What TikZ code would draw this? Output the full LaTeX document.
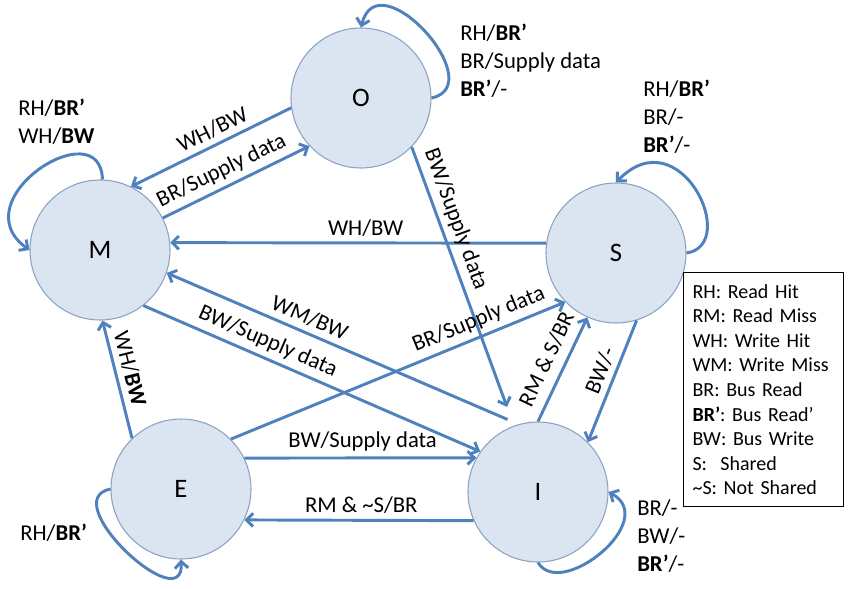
\documentclass[tikz,border=0pt]{standalone}
\usepackage{fontspec}
\setmainfont{Carlito}
\usetikzlibrary{arrows.meta}
\definecolor{edgeblue}{RGB}{79,129,189}
\definecolor{statefill}{RGB}{219,229,241}
\definecolor{stateline}{RGB}{140,162,196}

\begin{document}
\begin{tikzpicture}[x=0.75pt,y=-0.75pt,
  state/.style={circle,draw=stateline,fill=statefill,line width=0.8pt,minimum size=105pt,inner sep=0pt,font=\fontsize{20}{24}\selectfont},
  trans/.style={draw=edgeblue,line width=2.2pt,-{Straight Barb[length=5pt,width=10pt]}},
  lbl/.style={font=\fontsize{17}{21}\selectfont,inner sep=4pt},
  looplbl/.style={font=\fontsize{17}{21}\selectfont,align=left,anchor=west,inner sep=0pt}]
\useasboundingbox (0,0) rectangle (850,589);

\node[state] (O) at (361,98) {O};
\node[state] (M) at (100,250) {M};
\node[state] (S) at (616,253) {S};
\node[state] (E) at (181,489) {E};
\node[state] (I) at (538,492) {I};

\node[draw=black,line width=0.8pt,anchor=north west,text width=106.5pt,inner xsep=6.75pt,minimum height=175.5pt,align=left,font=\fontsize{15}{18.45}\selectfont] (legend) at (683,272) {RH: Read Hit\\RM: Read Miss\\WH: Write Hit\\WM: Write Miss\\BR: Bus Read\\\textbf{BR’}: Bus Read’\\BW: Bus Write\\S:\ \ Shared\\\textasciitilde S: Not Shared};

\draw[trans] (O.188) -- node[lbl,sloped,above,pos=0.45] {WH/BW} (M.64);
\draw[trans] (M.27) -- node[lbl,sloped,above,pos=0.45] {BR/Supply data} (O.223);
\draw[trans] (S.172) -- node[lbl,sloped,above,pos=0.48] {WH/BW} (M.6);
\draw[trans,shorten >=15pt] (O.-44) -- node[lbl,sloped,above,pos=0.28] {BW/Supply data} (I.110);
\draw[trans,shorten <=9pt] (I.106) -- node[lbl,sloped,above,pos=0.61] {WM/BW} (M.-19);
\draw[trans] (M.-52) -- node[lbl,sloped,above,pos=0.35] {BW/Supply data} (I.145);
\draw[trans] (E.45) -- node[lbl,sloped,above,pos=0.76] {BR/Supply data} (S.224);
\draw[trans] (E.26) -- node[lbl,sloped,above,pos=0.51] {BW/Supply data} (I.151);
\draw[trans] (I.204) -- node[lbl,sloped,above,pos=0.49] {RM \& \textasciitilde S/BR} (E.-26);
\draw[trans] (E.134) -- node[lbl,sloped,above,pos=0.56] {WH/\textbf{BW}} (M.-88);
\draw[trans] (I.90) -- node[lbl,sloped,above=3pt,pos=0.52] {RM \& S/BR} (S.246);
\draw[trans] (S.-73) -- node[lbl,sloped,above,pos=0.46] {BW/-} (I.45);

% self loops
\draw[trans] (O.0) .. controls +(60,-13) and +(17,-69) .. (O.90);
\draw[trans] (M.88) .. controls +(-2,-70) and +(-70,-50) .. (M.180);
\draw[trans] (S.0) .. controls +(54,-8) and +(64,-66) .. (S.90);
\draw[trans] (E.180) .. controls +(-56,11) and +(4,61) .. (E.-90);
\draw[trans] (I.-90) .. controls +(23,38) and +(52,28) .. (I.0);

\node[looplbl] (Olbl) at (460,61) {RH/\textbf{BR’}\\BR/Supply data\\\textbf{BR’}/-};
\node[looplbl] (Mlbl) at (18,122) {RH/\textbf{BR’}\\WH/\textbf{BW}};
\node[looplbl] (Slbl) at (643,117) {RH/\textbf{BR’}\\BR/-\\\textbf{BR’}/-};
\node[looplbl] (Elbl) at (20,533) {RH/\textbf{BR’}};
\node[looplbl] (Ilbl) at (637,536) {BR/-\\BW/-\\\textbf{BR’}/-};
\end{tikzpicture}
\end{document}
